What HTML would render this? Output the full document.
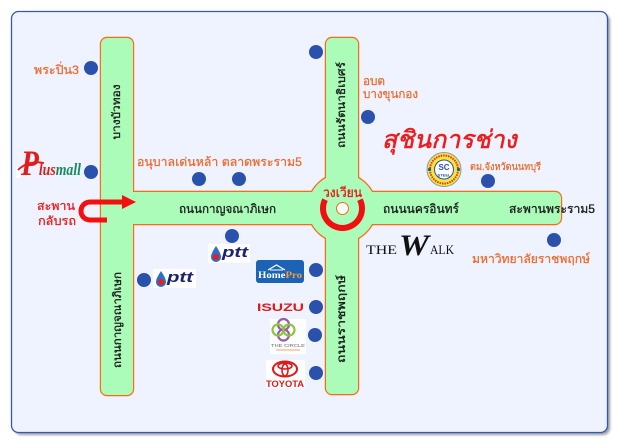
<!DOCTYPE html>
<html><head><meta charset="utf-8">
<style>
html,body{margin:0;padding:0;background:#fff;}
svg{display:block;}
.th{font-family:"Liberation Sans","Loma","Garuda","Tlwg Typo","Noto Sans Thai","DejaVu Sans",sans-serif;}
.ser{font-family:"Liberation Serif","DejaVu Serif",serif;}
.sans{font-family:"Liberation Sans","DejaVu Sans",sans-serif;}
</style></head><body>
<svg width="619" height="444" viewBox="0 0 619 444" xmlns="http://www.w3.org/2000/svg">
<defs>
<filter id="sh" x="-5%" y="-5%" width="110%" height="110%"><feGaussianBlur stdDeviation="1.4"/></filter>
</defs>
<!-- panel -->
<rect x="14" y="14" width="596" height="421" rx="7" fill="#9c9c9c" filter="url(#sh)"/>
<rect x="11.5" y="11.5" width="596" height="421" rx="7" fill="#eef3ff" stroke="#3158b8" stroke-width="1.3"/>

<!-- roads -->
<g fill="#aafcb8" stroke="#ff6a10" stroke-width="2.4">
 <rect x="101" y="38" width="32" height="357" rx="6"/>
 <rect x="110" y="192" width="451" height="32" rx="6"/>
 <rect x="326" y="38" width="32" height="356" rx="6"/>
 <circle cx="342" cy="208" r="34"/>
</g>
<g fill="#aafcb8">
 <rect x="101" y="38" width="32" height="357" rx="6"/>
 <rect x="110" y="192" width="451" height="32" rx="6"/>
 <rect x="326" y="38" width="32" height="356" rx="6"/>
 <circle cx="342" cy="208" r="34"/>
</g>

<!-- roundabout -->
<path d="M325.1,199.7 A19.5,19.5 0 1 0 359.9,199.7" fill="none" stroke="#f01010" stroke-width="6"/>
<circle cx="342.5" cy="208.5" r="6" fill="#fff" stroke="#ff6a10" stroke-width="1"/>
<text class="th" x="323" y="197" font-size="13" fill="#e81818" stroke="#e81818" stroke-width="0.3" textLength="39" lengthAdjust="spacingAndGlyphs">วงเวียน</text>

<!-- road names -->
<g class="th" fill="#1a1a1a" stroke="#1a1a1a" stroke-width="0.3" font-size="12">
 <text x="179" y="213" textLength="97" lengthAdjust="spacingAndGlyphs">ถนนกาญจณาภิเษก</text>
 <text x="383" y="213" textLength="76" lengthAdjust="spacingAndGlyphs">ถนนนครอินทร์</text>
 <text x="509" y="213" textLength="86" lengthAdjust="spacingAndGlyphs">สะพานพระราม5</text>
 <text transform="translate(120,112) rotate(-90)" x="-27.5" y="0" font-size="11" textLength="55" lengthAdjust="spacingAndGlyphs">บางบัวทอง</text>
 <text transform="translate(345,105) rotate(-90)" x="-43" y="0" font-size="11" textLength="86" lengthAdjust="spacingAndGlyphs">ถนนรัตนาธิเบศร์</text>
 <text transform="translate(121,320) rotate(-90)" x="-48" y="0" font-size="11" textLength="96" lengthAdjust="spacingAndGlyphs">ถนนกาญจณาภิเษก</text>
 <text transform="translate(345,319) rotate(-90)" x="-44" y="0" font-size="11" textLength="88" lengthAdjust="spacingAndGlyphs">ถนนราชพฤกษ์</text>
</g>

<!-- orange labels -->
<g class="th" fill="#ee6a2c" stroke="#ee6a2c" stroke-width="0.25" font-size="12">
 <text x="34" y="74" textLength="45" lengthAdjust="spacingAndGlyphs">พระปิ่น3</text>
 <text x="137" y="166" textLength="165" lengthAdjust="spacingAndGlyphs">อนุบาลเด่นหล้า ตลาดพระราม5</text>
 <text x="363" y="85" textLength="22" lengthAdjust="spacingAndGlyphs">อบต</text>
 <text x="363" y="98" textLength="55" lengthAdjust="spacingAndGlyphs">บางขุนกอง</text>
 <text x="470" y="170" font-size="10" textLength="71" lengthAdjust="spacingAndGlyphs">ตม.จังหวัดนนทบุรี</text>
 <text x="472" y="263" textLength="118" lengthAdjust="spacingAndGlyphs">มหาวิทยาลัยราชพฤกษ์</text>
</g>

<!-- red labels -->
<g class="th" fill="#ee1c1c" stroke="#ee1c1c" stroke-width="0.3">
 <text x="37" y="210" font-size="12" textLength="38" lengthAdjust="spacingAndGlyphs">สะพาน</text>
 <text x="38" y="225" font-size="12" textLength="38" lengthAdjust="spacingAndGlyphs">กลับรถ</text>
 <text x="382" y="148" font-size="25" font-style="italic" stroke-width="0.6" textLength="135" lengthAdjust="spacingAndGlyphs">สุชินการช่าง</text>
</g>

<!-- U-turn arrow -->
<path d="M107,220 L90,220 A9,9 0 0 1 90,202 L124,202" fill="none" stroke="#f51010" stroke-width="5"/>
<polygon points="122,195 136,202 122,209" fill="#f51010"/>

<!-- dots -->
<g fill="#2a52ad">
 <circle cx="91" cy="68" r="7"/>
 <circle cx="91" cy="172" r="7"/>
 <circle cx="199" cy="179" r="7"/>
 <circle cx="239" cy="179" r="7"/>
 <circle cx="316" cy="52" r="7"/>
 <circle cx="368" cy="117" r="7"/>
 <circle cx="488" cy="181" r="7"/>
 <circle cx="554" cy="240" r="7"/>
 <circle cx="232" cy="236" r="7"/>
 <circle cx="144" cy="280" r="7"/>
 <circle cx="316" cy="270" r="7"/>
 <circle cx="316" cy="307" r="7"/>
 <circle cx="315" cy="335" r="7"/>
 <circle cx="316" cy="373" r="7"/>
</g>

<!-- Plusmall logo -->
<rect x="16" y="167" width="4" height="11" fill="#fff"/>
<text class="ser" x="21" y="175" font-style="italic" textLength="60" lengthAdjust="spacingAndGlyphs"><tspan fill="#e01c1c" font-size="36" font-weight="bold">P</tspan><tspan fill="#e01c1c" font-size="17" font-weight="bold">lus</tspan><tspan fill="#1a8a62" font-size="17" font-weight="bold">mall</tspan></text>
<path d="M18,170 Q28,160 44,163" fill="none" stroke="#e01c1c" stroke-width="1.8"/>

<!-- ptt logos -->
<rect x="208" y="244" width="42" height="19" fill="#fff"/>
<path d="M216,246 C212,252 211,255 211,257 A5,5 0 0 0 221,257 C221,255 220,252 216,246Z" fill="#2a6fc9"/>
<circle cx="216" cy="257" r="3" fill="#ee1c1c"/>
<text class="sans" x="222" y="257" font-size="15" font-weight="bold" font-style="italic" fill="#1c2472" textLength="26" lengthAdjust="spacingAndGlyphs">ptt</text>
<rect x="153" y="269" width="43" height="19" fill="#fff"/>
<path d="M161,271 C157,277 156,280 156,282 A5,5 0 0 0 166,282 C166,280 165,277 161,271Z" fill="#2a6fc9"/>
<circle cx="161" cy="282" r="3" fill="#ee1c1c"/>
<text class="sans" x="167" y="282" font-size="15" font-weight="bold" font-style="italic" fill="#1c2472" textLength="26" lengthAdjust="spacingAndGlyphs">ptt</text>

<!-- HomePro -->
<rect x="256" y="260" width="48" height="23" rx="3" fill="#1b63b5"/>
<polyline points="268,270 276.5,265 285,270" fill="none" stroke="#fff" stroke-width="1.3"/>
<line x1="270" y1="270" x2="283" y2="270" stroke="#fff" stroke-width="1"/>
<text class="ser" x="258" y="278" font-size="9" font-weight="bold" textLength="44" lengthAdjust="spacingAndGlyphs"><tspan fill="#fff">Home</tspan><tspan fill="#ff9a3a">Pro</tspan></text>

<!-- ISUZU -->
<text class="sans" x="257" y="311" font-size="11" font-weight="bold" fill="#e01818" textLength="47" lengthAdjust="spacingAndGlyphs">ISUZU</text>

<!-- The Circle -->
<rect x="270" y="319" width="36" height="35" fill="#fff"/>
<circle cx="283.5" cy="324.5" r="5.5" fill="none" stroke="#9a5aa8" stroke-width="2.2"/>
<circle cx="283.5" cy="335" r="5.5" fill="none" stroke="#9a5aa8" stroke-width="2.2"/>
<circle cx="278" cy="330" r="5.5" fill="none" stroke="#8cc63f" stroke-width="2.2"/>
<circle cx="289" cy="330" r="5.5" fill="none" stroke="#8cc63f" stroke-width="2.2"/>
<text class="sans" x="271" y="347" font-size="4.5" fill="#666" textLength="34" lengthAdjust="spacingAndGlyphs">THE CIRCLE</text>
<line x1="276" y1="350" x2="300" y2="350" stroke="#f0a070" stroke-width="1"/>

<!-- TOYOTA -->
<rect x="266" y="360" width="39" height="28" fill="#fff"/>
<ellipse cx="285" cy="369" rx="12" ry="7.5" fill="none" stroke="#e01818" stroke-width="2"/>
<ellipse cx="285" cy="366" rx="7" ry="3" fill="none" stroke="#e01818" stroke-width="1.6"/>
<ellipse cx="285" cy="370" rx="3" ry="6" fill="none" stroke="#e01818" stroke-width="1.6"/>
<text class="sans" x="266" y="387" font-size="9" font-weight="bold" fill="#e01818" textLength="38" lengthAdjust="spacingAndGlyphs">TOYOTA</text>

<!-- SC steel -->
<circle cx="444" cy="169.5" r="17" fill="#f5e63a" stroke="#8a9ab0" stroke-width="1"/>
<circle cx="444" cy="169.5" r="14" fill="none" stroke="#e03030" stroke-width="2" stroke-dasharray="1.5 1"/>
<circle cx="444" cy="169.5" r="9.5" fill="#fff" stroke="#2a52ad" stroke-width="1"/>
<circle cx="429.5" cy="169.5" r="1.6" fill="#2a52ad"/>
<circle cx="458.5" cy="169.5" r="1.6" fill="#2a52ad"/>
<text class="sans" x="444" y="170" font-size="8" font-weight="bold" fill="#2a52ad" text-anchor="middle">SC</text>
<text class="sans" x="444" y="176.5" font-size="4" font-weight="bold" fill="#2a52ad" text-anchor="middle">STEEL</text>

<!-- THE WALK -->
<text class="ser" x="366" y="254" font-size="13" fill="#111" textLength="31" lengthAdjust="spacingAndGlyphs">THE</text>
<text class="ser" x="399" y="255" font-size="30" font-weight="bold" font-style="italic" fill="#111" textLength="30" lengthAdjust="spacingAndGlyphs">W</text>
<text class="ser" x="430" y="254" font-size="13" fill="#111" textLength="24" lengthAdjust="spacingAndGlyphs">ALK</text>
</svg>
</body></html>
